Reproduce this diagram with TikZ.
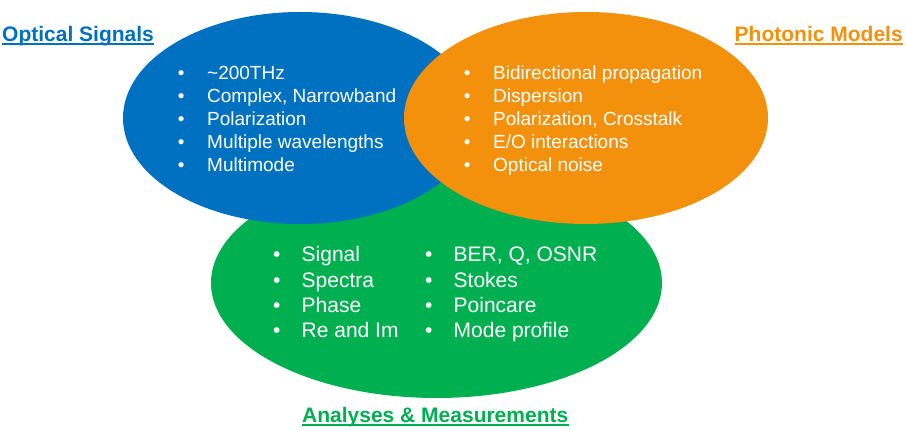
\documentclass[tikz,border=0pt]{standalone}
\usepackage{fontspec}
\setmainfont{Liberation Sans}
\usetikzlibrary{shapes.geometric}

\definecolor{sigblue}{RGB}{0,112,192}
\definecolor{modorange}{RGB}{243,145,13}
\definecolor{anagreen}{RGB}{0,176,80}

\tikzset{
  blob/.style={ellipse, inner sep=0pt, draw=none},
  title/.style={inner sep=0pt, anchor=base west, font=\fontsize{21}{25}\selectfont\bfseries},
  items/.style={inner sep=0pt, anchor=base west, text=white},
}

\begin{document}
\begin{tikzpicture}[x=1pt, y=-1pt]
    \useasboundingbox (0,0) rectangle (906,430);

    % the three circles
    \node[blob, fill=anagreen, minimum width=451pt, minimum height=230pt] (ana) at (436.5,283) {};
    \node[blob, fill=sigblue, minimum width=354pt, minimum height=212pt] (sig) at (300,118) {};
    \node[blob, fill=modorange, minimum width=364pt, minimum height=212pt] (mod) at (586,118) {};

    % titles
    \node[title, text=sigblue] (sigtitle) at (2,42) {Optical Signals};
    \node[title, text=modorange] (modtitle) at (734.5,42) {Photonic Models};
    \node[title, text=anagreen] (anatitle) at (302,423) {Analyses \& Measurements};
    \draw[sigblue, line width=1.6pt] ([yshift=-2.2pt]sigtitle.base west) -- ([yshift=-2.2pt]sigtitle.base east);
    \draw[modorange, line width=1.6pt] ([yshift=-2.2pt]modtitle.base west) -- ([yshift=-2.2pt]modtitle.base east);
    \draw[anagreen, line width=1.6pt] ([yshift=-2.2pt]anatitle.base west) -- ([yshift=-2.2pt]anatitle.base east);

    % lists
    \node[items, font=\fontsize{19}{23}\selectfont] (siglist) at (155,80) {%
        \begin{tabular}[t]{@{}l@{}}
        \makebox[52pt]{\textbullet}\textasciitilde200THz\\
        \makebox[52pt]{\textbullet}Complex, Narrowband\\
        \makebox[52pt]{\textbullet}Polarization\\
        \makebox[52pt]{\textbullet}Multiple wavelengths\\
        \makebox[52pt]{\textbullet}Multimode
        \end{tabular}};
    \node[items, font=\fontsize{19}{23}\selectfont] (modlist) at (441,80) {%
        \begin{tabular}[t]{@{}l@{}}
        \makebox[52pt]{\textbullet}Bidirectional propagation\\
        \makebox[52pt]{\textbullet}Dispersion\\
        \makebox[52pt]{\textbullet}Polarization, Crosstalk\\
        \makebox[52pt]{\textbullet}E/O interactions\\
        \makebox[52pt]{\textbullet}Optical noise
        \end{tabular}};
    \node[items, font=\fontsize{21}{25.3}\selectfont] (analist) at (251.5,262) {%
        \begin{tabular}[t]{@{}l@{}}
        \makebox[50pt]{\textbullet}Signal\\
        \makebox[50pt]{\textbullet}Spectra\\
        \makebox[50pt]{\textbullet}Phase\\
        \makebox[50pt]{\textbullet}Re and Im
        \end{tabular}};
    \node[items, font=\fontsize{21}{25.3}\selectfont] (measlist) at (403.5,262) {%
        \begin{tabular}[t]{@{}l@{}}
        \makebox[50pt]{\textbullet}BER, Q, OSNR\\
        \makebox[50pt]{\textbullet}Stokes\\
        \makebox[50pt]{\textbullet}Poincare\\
        \makebox[50pt]{\textbullet}Mode profile
        \end{tabular}};
\end{tikzpicture}
\end{document}
